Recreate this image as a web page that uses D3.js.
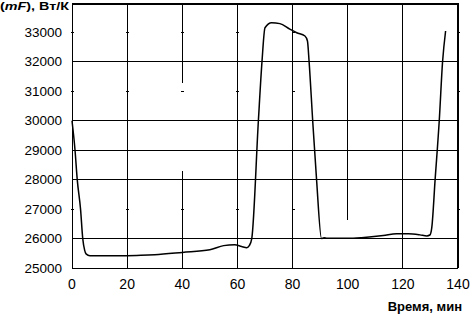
<!DOCTYPE html>
<html>
<head>
<meta charset="utf-8">
<script src="https://cdn.jsdelivr.net/npm/d3@7"></script>
<style>
  body { margin: 0; background: #fff; }
  text { font-family: "Liberation Sans", Arial, sans-serif; fill: #000; }
</style>
</head>
<body>
<div id="chart"></div>
<script>
// curve: time (min) and (mF), W/K
let times  = [0, 1.1, 1.9, 3.1, 3.9, 4.6, 5.1, 6.5, 10, 20, 25, 30, 40, 50, 55, 59, 61.5, 63.4, 64.3, 65.2, 67.6, 68.9, 70, 72.4, 75.4, 79, 81.5, 84.5, 85.4, 86, 87.3, 88.7, 90.5, 91.4, 92.5, 100, 105, 112.9, 117.7, 122, 126.2, 128.7, 129.8, 130.5, 131.7, 133.2, 134.4, 135.5];
let values = [30000, 29000, 28000, 27000, 26000, 25600, 25480, 25420, 25420, 25420, 25430, 25450, 25530, 25620, 25760, 25790, 25730, 25690, 25760, 26000, 30000, 32000, 33160, 33330, 33300, 33110, 32990, 32880, 32710, 32000, 30000, 28000, 26000, 26030, 26010, 26010, 26030, 26100, 26160, 26160, 26125, 26090, 26120, 26380, 28000, 30000, 32000, 33050];

let xTicks = [0, 20, 40, 60, 80, 100, 120, 140];
let yTicks = [25000, 26000, 27000, 28000, 29000, 30000, 31000, 32000, 33000];
let gridY = [26000, 28000, 29000, 30000, 32000];
// vertical grid pieces [time, from, to] - the scan has gaps in some of them
let gridX = [[20, 25000, 34000], [40, 31300, 34000], [40, 25000, 28300], [60, 25000, 34000], [80, 25000, 34000], [100, 26620, 34000], [120, 25000, 34000]];
let minorY = [27000, 31000, 33000];
let minorX = [0, 20, 40, 60, 80, 140];

let W = 473, H = 315;
let mLeft = 72, mRight = 15, mTop = 3, mBottom = 47;

let svg = d3.select("#chart").append("svg")
  .attr("width", W)
  .attr("height", H);

let xScale = d3.scaleLinear().domain([0, 140]).range([mLeft, W - mRight]);
let yScale = d3.scaleLinear().domain([25000, 34000]).range([H - mBottom, mTop]);

// grid
svg.selectAll(".hgrid").data(gridY).enter().append("line")
  .attr("class", "hgrid")
  .attr("x1", xScale(0)).attr("x2", xScale(140))
  .attr("y1", d => yScale(d)).attr("y2", d => yScale(d))
  .attr("stroke", "#000").attr("stroke-width", 1)
  .attr("shape-rendering", "crispEdges");

svg.selectAll(".vgrid").data(gridX).enter().append("line")
  .attr("class", "vgrid")
  .attr("x1", d => xScale(d[0])).attr("x2", d => xScale(d[0]))
  .attr("y1", d => yScale(d[1])).attr("y2", d => yScale(d[2]))
  .attr("stroke", "#000").attr("stroke-width", 1)
  .attr("shape-rendering", "crispEdges");

// little ticks where the odd gridlines would cross
let crosses = [];
minorX.forEach(t => minorY.forEach(v => crosses.push([t, v])));
svg.selectAll(".minor").data(crosses).enter().append("line")
  .attr("class", "minor")
  .attr("x1", d => xScale(d[0]) - 1).attr("x2", d => xScale(d[0]) + 2)
  .attr("y1", d => yScale(d[1])).attr("y2", d => yScale(d[1]))
  .attr("stroke", "#000").attr("stroke-width", 1)
  .attr("shape-rendering", "crispEdges");

// frame
let x0 = xScale(0), x1 = xScale(140), y0 = yScale(25000), y1 = yScale(34000);
svg.append("line").attr("x1", x0).attr("x2", x0).attr("y1", y1).attr("y2", y0)
  .attr("stroke", "#000").attr("stroke-width", 1).attr("shape-rendering", "crispEdges");
svg.append("line").attr("x1", x0).attr("x2", x1).attr("y1", y0).attr("y2", y0)
  .attr("stroke", "#000").attr("stroke-width", 1).attr("shape-rendering", "crispEdges");
svg.append("line").attr("x1", x0).attr("x2", x1 + 1).attr("y1", y1 + 1).attr("y2", y1 + 1)
  .attr("stroke", "#000").attr("stroke-width", 2).attr("shape-rendering", "crispEdges");
svg.append("line").attr("x1", x1).attr("x2", x1).attr("y1", y1).attr("y2", y0)
  .attr("stroke", "#000").attr("stroke-width", 2).attr("shape-rendering", "crispEdges");

// tick labels
svg.selectAll(".ylab").data(yTicks).enter().append("text")
  .attr("class", "ylab")
  .attr("x", x0 - 10)
  .attr("y", d => yScale(d) + 4.5)
  .attr("text-anchor", "end")
  .style("font-size", "13.5px")
  .text(d => d);

svg.selectAll(".xlab").data(xTicks).enter().append("text")
  .attr("class", "xlab")
  .attr("x", d => xScale(d))
  .attr("y", y0 + 21)
  .attr("text-anchor", "middle")
  .style("font-size", "14px")
  .text(d => d);

// axis titles
let yTitle = svg.append("text")
  .attr("x", 0).attr("y", 10)
  .attr("textLength", 69).attr("lengthAdjust", "spacingAndGlyphs")
  .style("font-size", "11px").style("font-weight", "bold");
yTitle.append("tspan").text("(");
yTitle.append("tspan").style("font-style", "italic").text("mF");
yTitle.append("tspan").text("), Вт/К");

svg.append("text")
  .attr("x", 462).attr("y", 311)
  .attr("text-anchor", "end")
  .style("font-size", "13px").style("font-weight", "bold")
  .text("Время, мин");

// the curve
let pts = times.map((t, i) => [t, values[i]]);
let line = d3.line().x(d => xScale(d[0])).y(d => yScale(d[1])).curve(d3.curveMonotoneX);
svg.append("path")
  .datum(pts)
  .attr("d", line)
  .attr("fill", "none")
  .attr("stroke", "#000")
  .attr("stroke-width", 1.5);
</script>
</body>
</html>
